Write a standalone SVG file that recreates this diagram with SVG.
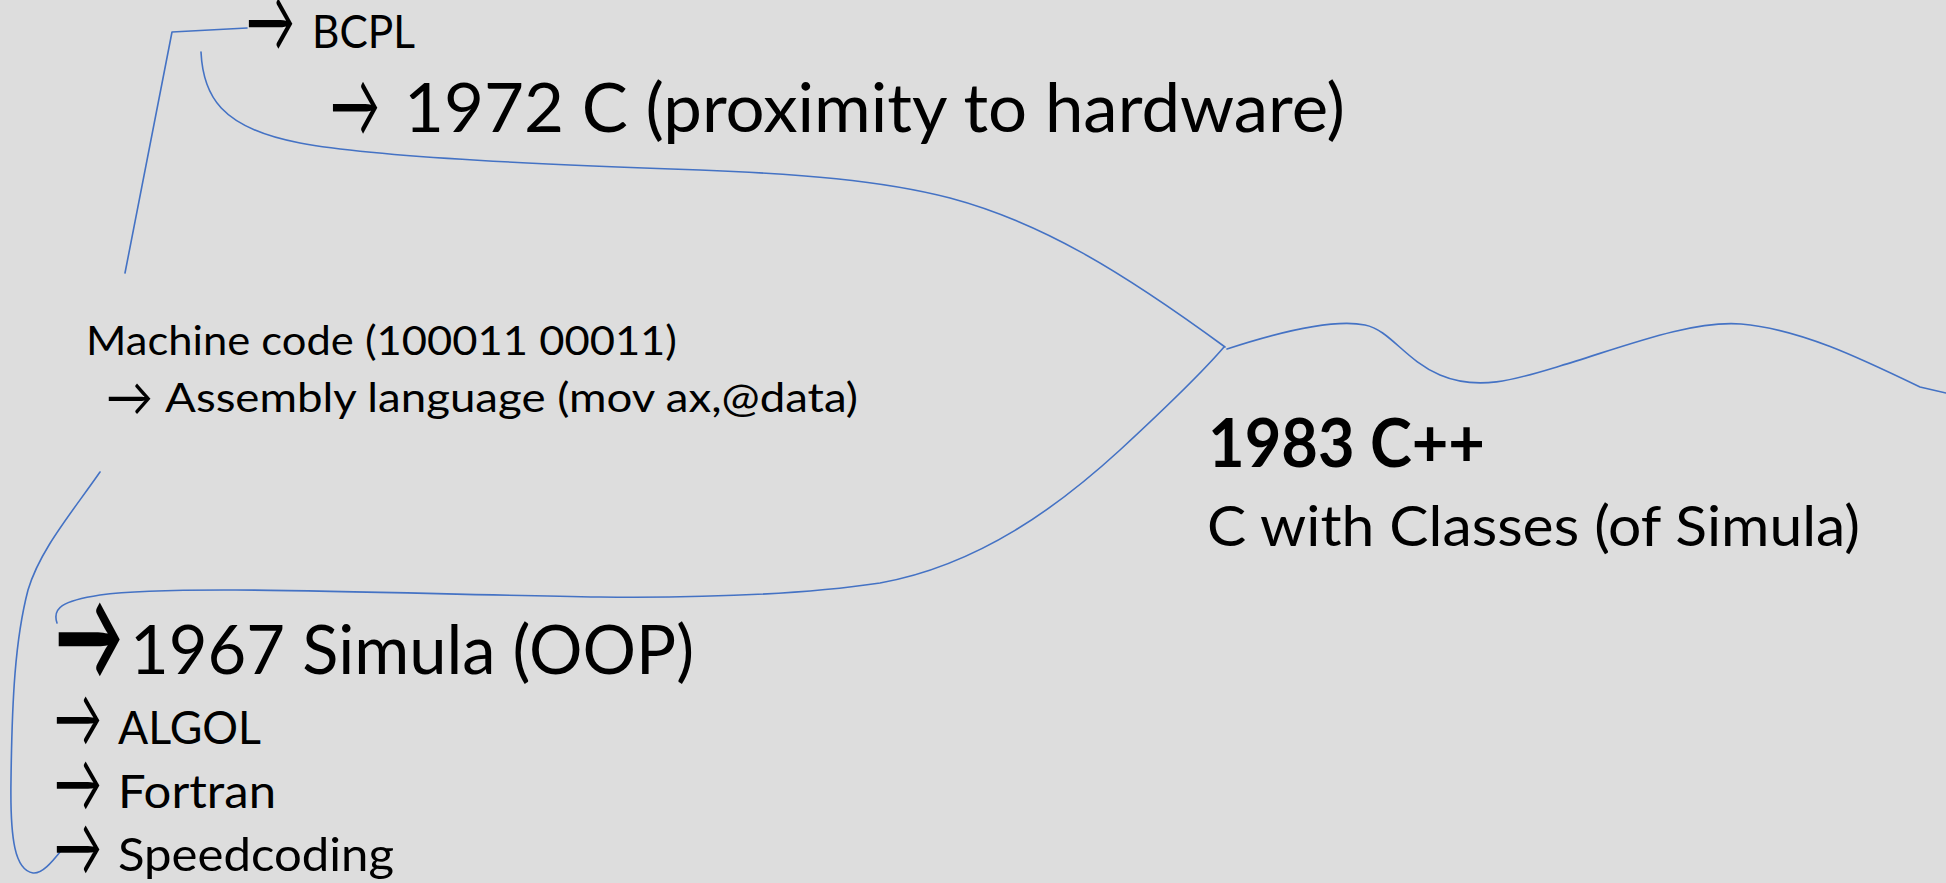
<svg xmlns="http://www.w3.org/2000/svg" width="1946" height="883" viewBox="0 0 1946 883">
  <style>
    .t { font-family: Lato, "Open Sans", "Liberation Sans", sans-serif; fill: #000; }
    .b { font-weight: bold; }
    .ar { font-family: Lato, "Noto Sans CJK JP", sans-serif; fill: #000; font-size: 40px; }
    .ln { fill: none; stroke: #4472C4; stroke-width: 1.6; stroke-linejoin: round; stroke-linecap: round; }
  </style>
  <rect width="1946" height="883" fill="#DDDDDD"/>

  <!-- connectors -->
  <g id="connectors">
    <polyline class="ln" points="125,273 172,32 247,28"/>
    <path class="ln" d="M201,52 C203,95 220,128 300,143 C380,158 560,165 700,170 C800,174 880,180 950,198 C1040,222 1120,270 1225,347"/>
    <path class="ln" d="M57,623 C52,608 62,601 100,595 C180,584 400,594 600,597 C700,598 800,595 880,583 C980,565 1060,505 1120,450 C1160,413 1200,375 1224,347"/>
    <path class="ln" d="M1227,349 C1270,335 1330,318 1365,325 C1390,330 1405,360 1440,375 C1480,392 1520,378 1560,366 C1620,348 1690,320 1741,324 C1800,329 1860,358 1920,387 L1946,393"/>
    <path class="ln" d="M100,472 C70,515 40,550 28,590 C15,640 12,700 11,780 C10,840 15,870 33,873 C42,874 52,862 60,852"/>
  </g>

  <!-- BCPL -->
  <g id="bcpl">
    <text class="ar" transform="translate(246,52) scale(1,2.2)" textLength="49" lengthAdjust="spacingAndGlyphs">→</text>
    <text class="t" x="312" y="48" font-size="47" textLength="103" lengthAdjust="spacingAndGlyphs">BCPL</text>
  </g>

  <!-- 1972 C -->
  <g id="c1972">
    <text class="ar" transform="translate(330,136.5) scale(1,2.27)" textLength="50" lengthAdjust="spacingAndGlyphs">→</text>
    <text class="t" x="404" y="132" font-size="67" textLength="941" lengthAdjust="spacingAndGlyphs">1972 C (proximity to hardware)</text>
  </g>

  <!-- machine code / assembly -->
  <g id="machine-code">
    <text class="t" x="86" y="355" font-size="40" textLength="591" lengthAdjust="spacingAndGlyphs">Machine code (100011 00011)</text>
    <text class="ar" transform="translate(106,415.7) scale(1,1.34)" textLength="47" lengthAdjust="spacingAndGlyphs">→</text>
    <text class="t" x="165" y="412" font-size="40" textLength="693" lengthAdjust="spacingAndGlyphs">Assembly language (mov ax,@data)</text>
  </g>

  <!-- Simula -->
  <g id="simula">
    <text class="ar b" transform="translate(55,680) scale(1,3.15)" textLength="68" lengthAdjust="spacingAndGlyphs">→</text>
    <text class="t" x="130" y="674" font-size="67" textLength="564" lengthAdjust="spacingAndGlyphs">1967 Simula (OOP)</text>
  </g>

  <g id="algol">
    <text class="ar" transform="translate(54,747) scale(1,2.09)" textLength="48" lengthAdjust="spacingAndGlyphs">→</text>
    <text class="t" x="118" y="744" font-size="47" textLength="143" lengthAdjust="spacingAndGlyphs">ALGOL</text>
  </g>

  <g id="fortran">
    <text class="ar" transform="translate(54,812) scale(1,2.09)" textLength="48" lengthAdjust="spacingAndGlyphs">→</text>
    <text class="t" x="118" y="808" font-size="47" textLength="158" lengthAdjust="spacingAndGlyphs">Fortran</text>
  </g>

  <g id="speedcoding">
    <text class="ar" transform="translate(54,876) scale(1,2.09)" textLength="48" lengthAdjust="spacingAndGlyphs">→</text>
    <text class="t" x="118" y="871" font-size="47" textLength="276" lengthAdjust="spacingAndGlyphs">Speedcoding</text>
  </g>

  <!-- C++ -->
  <g id="cpp">
    <text class="t b" x="1208" y="467" font-size="66" textLength="277" lengthAdjust="spacingAndGlyphs">1983 C++</text>
    <text class="t" x="1207" y="546" font-size="56" textLength="653" lengthAdjust="spacingAndGlyphs">C with Classes (of Simula)</text>
  </g>
</svg>
